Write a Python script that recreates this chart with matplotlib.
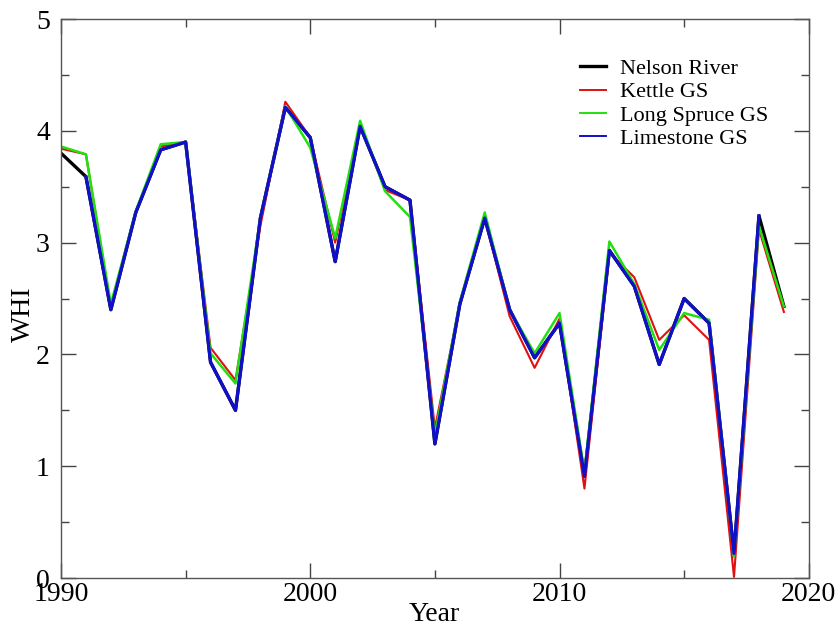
import matplotlib
matplotlib.use("Agg")
import matplotlib.pyplot as plt
from matplotlib.ticker import MultipleLocator

years_all = list(range(1990, 2020))
years_lime = list(range(1991, 2019))

nelson = [3.80, 3.59, 2.40, 3.27, 3.83, 3.90, 1.93, 1.50, 3.22, 4.21,
          3.94, 2.83, 4.04, 3.50, 3.38, 1.20, 2.45, 3.22, 2.40, 1.97,
          2.28, 0.91, 2.93, 2.61, 1.91, 2.50, 2.28, 0.22, 3.24, 2.43]
kettle = [3.84, 3.79, 2.42, 3.27, 3.86, 3.90, 2.06, 1.77, 3.15, 4.26,
          3.94, 3.00, 4.06, 3.47, 3.38, 1.34, 2.45, 3.22, 2.34, 1.88,
          2.32, 0.80, 2.91, 2.69, 2.13, 2.35, 2.13, 0.01, 3.12, 2.38]
long_spruce = [3.86, 3.79, 2.45, 3.28, 3.88, 3.90, 2.01, 1.74, 3.22, 4.22,
               3.85, 3.04, 4.09, 3.46, 3.23, 1.28, 2.47, 3.27, 2.40, 2.01,
               2.37, 0.95, 3.01, 2.63, 2.04, 2.37, 2.31, 0.19, 3.15, 2.43]
limestone = [3.59, 2.40, 3.27, 3.83, 3.90, 1.93, 1.50, 3.22, 4.21,
             3.94, 2.83, 4.04, 3.50, 3.38, 1.20, 2.45, 3.22, 2.40, 1.97,
             2.28, 0.91, 2.93, 2.61, 1.91, 2.50, 2.28, 0.22, 3.24]

plt.rcParams['font.family'] = ['Liberation Serif', 'DejaVu Serif']

fig = plt.figure(figsize=(8.39, 6.30), dpi=100)
ax = fig.add_axes([0.0727, 0.0825, 0.8913, 0.8873])

ax.plot(years_all, nelson, color='black', lw=2.4, label='Nelson River')
ax.plot(years_all, kettle, color='#e01010', lw=1.5, label='Kettle GS')
ax.plot(years_all, long_spruce, color='#22e010', lw=1.8, label='Long Spruce GS')
ax.plot(years_lime, limestone, color='#1010c8', lw=2.3, label='Limestone GS')

ax.set_xlim(1990, 2020)
ax.set_ylim(0, 5)
ax.xaxis.set_major_locator(MultipleLocator(10))
ax.xaxis.set_minor_locator(MultipleLocator(5))
ax.yaxis.set_major_locator(MultipleLocator(1))
ax.yaxis.set_minor_locator(MultipleLocator(0.5))
ax.tick_params(which='both', direction='in', top=True, right=True,
               labelsize=20, color='#444444', width=1.0)
ax.tick_params(axis='x', which='major', length=11, pad=3)
ax.tick_params(axis='y', which='major', length=11, pad=8)
ax.tick_params(which='minor', length=6)
for s in ax.spines.values():
    s.set_color('#555555')
    s.set_linewidth(1.0)

ax.set_xlabel('Year', fontsize=20)
ax.xaxis.set_label_coords(0.499, -0.043)
ax.set_ylabel('WHI', fontsize=20)
ax.yaxis.set_label_coords(-0.034, 0.472)

leg = ax.legend(loc='upper left', bbox_to_anchor=(0.667, 0.965), frameon=False,
                fontsize=16, handlelength=1.2, handletextpad=0.6,
                labelspacing=0.12)
for h in leg.legend_handles[1:]:
    h.set_linewidth(1.4)

fig.savefig('out.png', dpi=100)
